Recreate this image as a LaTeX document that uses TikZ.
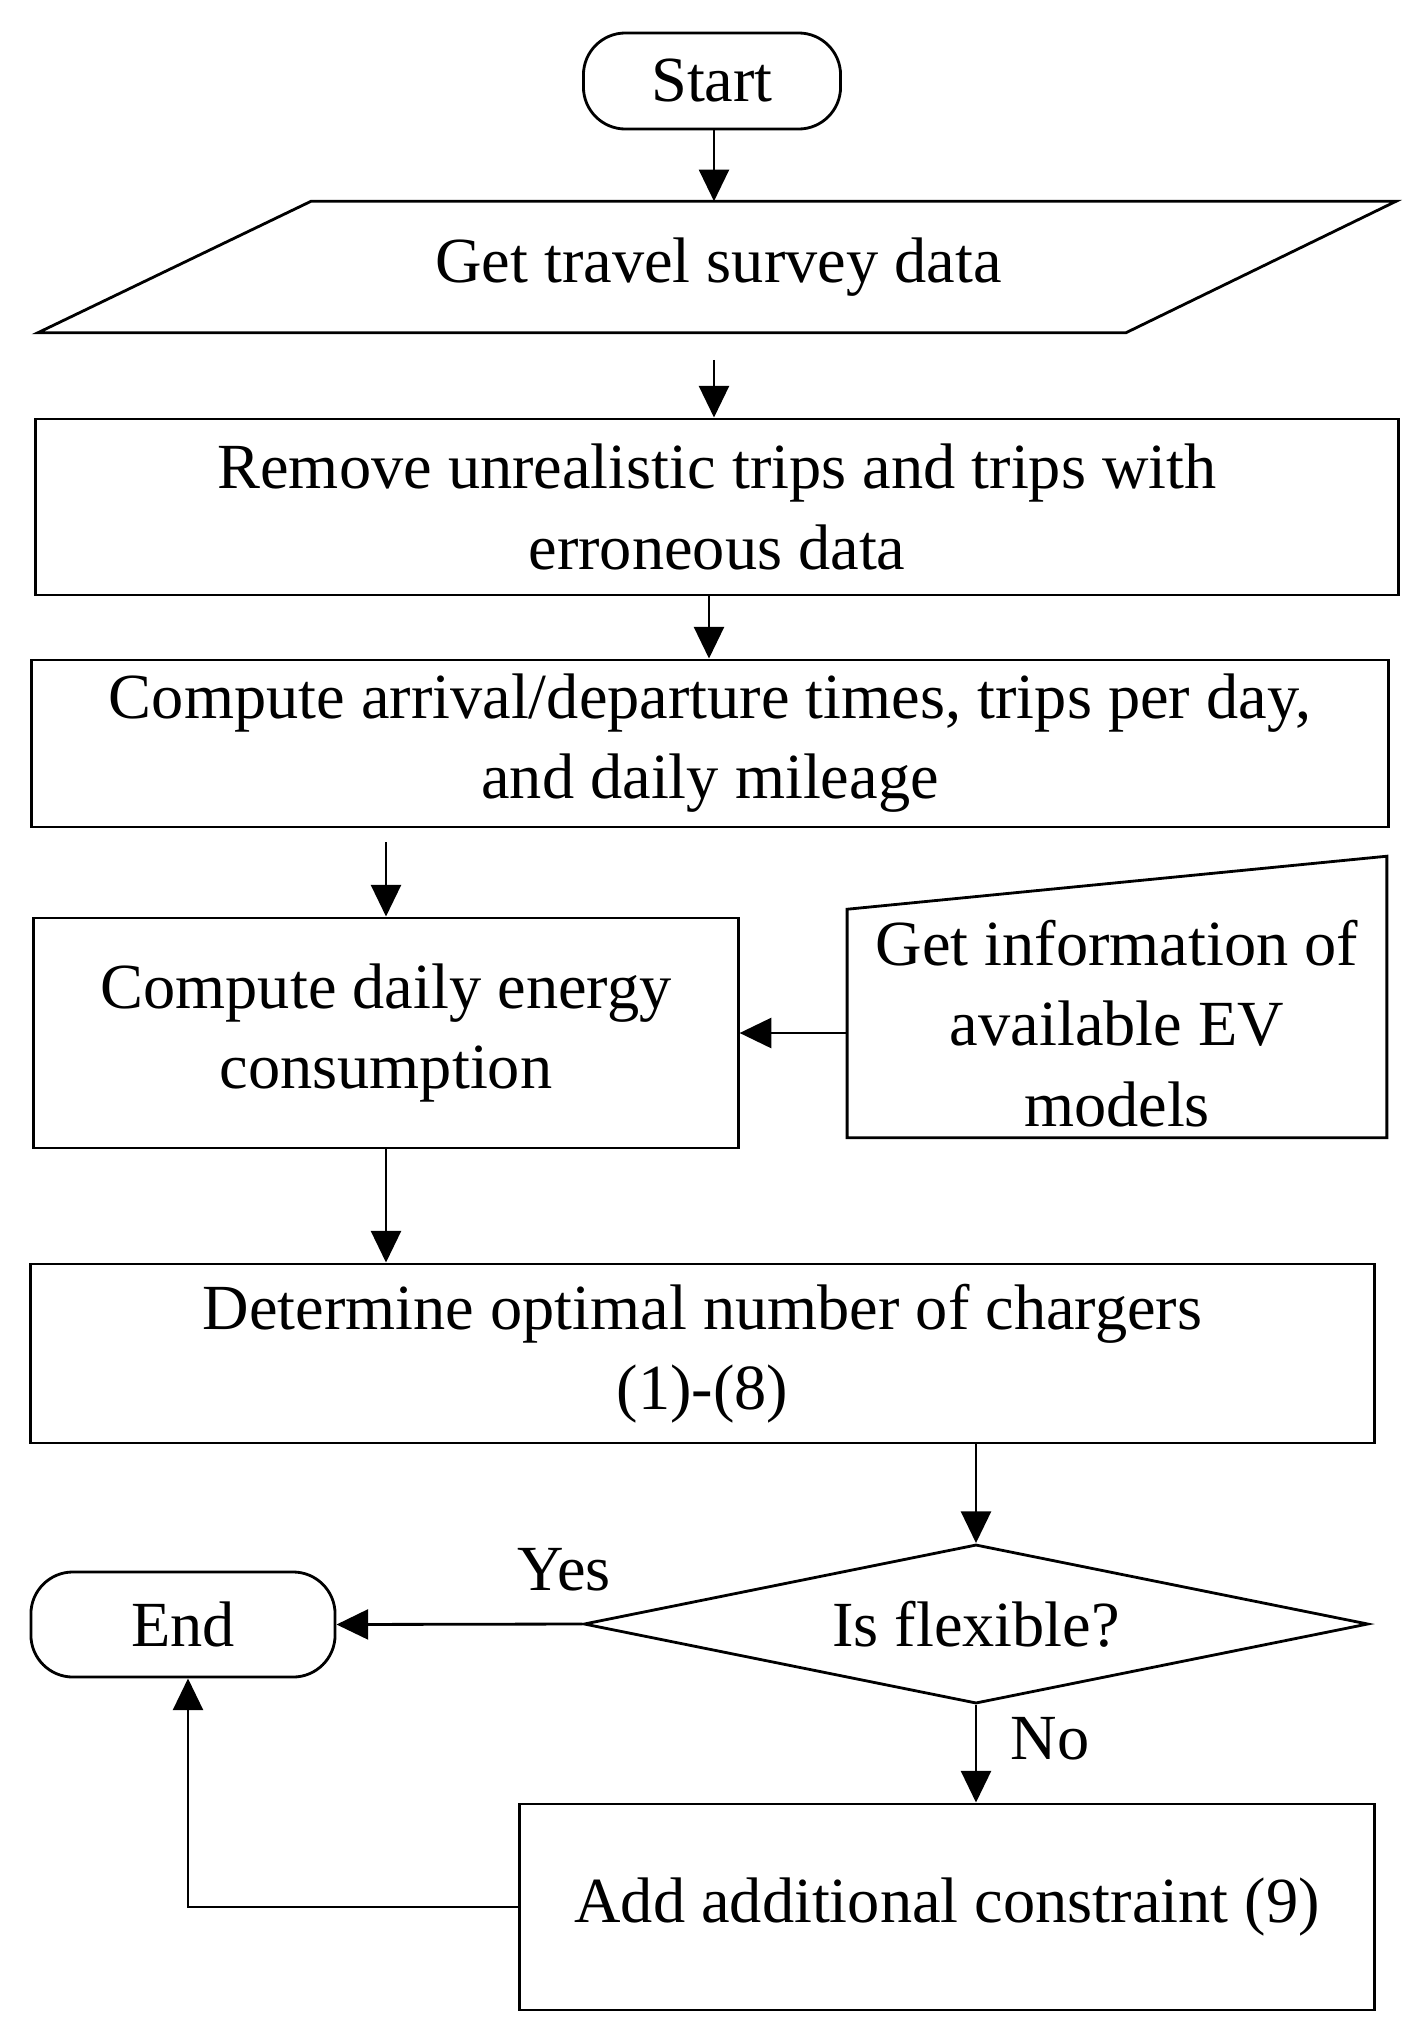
\documentclass[tikz,border=0pt]{standalone}
\usepackage{fontspec}
\setmainfont{Liberation Serif}
\usetikzlibrary{arrows.meta,shapes.geometric}

\tikzset{
	every node/.style = { font = \fontsize{18.3}{22.8}\selectfont, align = center, inner sep = 0pt },
	block/.style = { draw, line width = 0.8pt, rectangle },
	terminal/.style = { draw, line width = 0.8pt, rectangle, rounded corners = 0.42cm },
	decision/.style = { draw, line width = 0.8pt, diamond, aspect = 4.93 },
	flow/.style = { line width = 0.8pt, -{Triangle[length=9pt,width=8.5pt]} }
}

\begin{document}
\begin{tikzpicture}[x=0.01cm, y=-0.01cm]
		\useasboundingbox ( 0, 0 ) rectangle ( 1425, 2039 );

		% блоки
		\node [terminal, minimum width = 2.57cm, minimum height = 0.96cm] (start) at ( 712, 81 ) {Start};
		\node [minimum width = 8.13cm, minimum height = 1.30cm] (survey) at ( 718.5, 267 ) {Get travel survey data};
		\draw [line width = 0.8pt] (survey.north west) -- ([xshift=2.70cm]survey.north east) -- (survey.south east) -- ([xshift=-2.73cm]survey.south west) -- cycle;
		\node [block, minimum width = 13.62cm, minimum height = 1.76cm] (remove) at ( 717, 507 ) {Remove unrealistic trips and trips with\\erroneous data};
		\node [block, minimum width = 13.56cm, minimum height = 1.67cm] (arrival) at ( 710, 743.5 ) {Compute arrival/departure times, trips per day,\\and daily mileage};
		\node [block, minimum width = 7.04cm, minimum height = 2.30cm] (energy) at ( 386, 1033 ) {Compute daily energy\\consumption};
		\node [minimum width = 5.38cm, minimum height = 2.27cm] (evinfo) at ( 1117, 1023.5 ) {Get information of\\available EV\\models};
		\draw [line width = 0.8pt] (evinfo.north west) -- ([yshift=0.53cm]evinfo.north east) -- (evinfo.south east) -- (evinfo.south west) -- cycle;
		\node [block, minimum width = 13.43cm, minimum height = 1.79cm] (determine) at ( 702.5, 1353.5 ) {Determine optimal number of chargers\\(1)-(8)};
		\node [decision, minimum width = 7.84cm, minimum height = 1.59cm] (flexible) at ( 976, 1624 ) {Is flexible?};
		\node [terminal, minimum width = 3.04cm, minimum height = 1.05cm] (finish) at ( 183, 1624.5 ) {End};
		\node [block, minimum width = 8.54cm, minimum height = 2.06cm] (addcon) at ( 947, 1907 ) {Add additional constraint (9)};

		% подписи
		\node (yes) at ( 564, 1570 ) {Yes};
		\node (no) at ( 1050, 1739 ) {No};

		% стрелки
		\draw [flow] ([xshift=0.02cm]start.south) -- ([xshift=0.02cm]start.south |- survey.north);
		\draw [flow, shorten <= 0.27cm] ([xshift=-0.045cm]survey.south) -- ([xshift=-0.045cm]survey.south |- remove.north);
		\draw [flow] ([xshift=-0.08cm]remove.south) -- ([xshift=-0.08cm]remove.south |- arrival.north);
		\draw [flow, shorten <= 0.14cm] (arrival.south -| energy.north) -- (energy.north);
		\draw [flow] (evinfo.west |- energy.east) -- (energy.east);
		\draw [flow] (energy.south) -- (energy.south |- determine.north);
		\draw [flow] (determine.south -| flexible.north) -- (flexible.north);
		\draw [flow] (flexible.west) -- (finish.east);
		\draw [flow] (flexible.south) -- (flexible.south |- addcon.north);
		\draw [flow] (addcon.west) -| ([xshift=0.05cm]finish.south);
	\end{tikzpicture}
\end{document}
